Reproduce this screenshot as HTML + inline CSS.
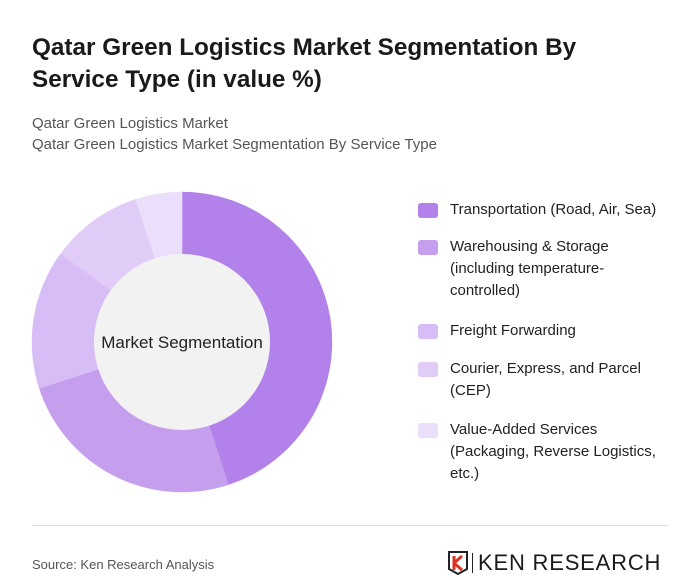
<!DOCTYPE html>
<html><head><meta charset="utf-8"><style>
body{margin:0;width:700px;height:580px;background:#fff;font-family:"Liberation Sans",sans-serif;position:relative;overflow:hidden}
.t{position:absolute;left:32px;top:32px;font-size:24.3px;font-weight:bold;color:#1a1a1a;line-height:32px;width:620px}
.s{position:absolute;left:32px;top:113px;font-size:15px;color:#555;line-height:21px}
.leg{position:absolute;left:418px;font-size:15px;color:#222;line-height:22px;width:260px}
.leg i{position:absolute;left:0;top:4px;width:20px;height:15px;border-radius:3px}
.leg span{display:block;margin-left:32px}
.hr{position:absolute;left:32px;top:525px;width:636px;height:1px;background:#ddd}
.src{position:absolute;left:32px;top:557px;font-size:13px;color:#555}
</style></head><body>
<div class="t">Qatar Green Logistics Market Segmentation By Service Type (in value %)</div>
<div class="s">Qatar Green Logistics Market<br>Qatar Green Logistics Market Segmentation By Service Type</div>
<svg id="c" width="700" height="580" style="position:absolute;left:0;top:0"></svg>
<div id="legend"></div>
<div class="hr"></div>
<div class="src">Source: Ken Research Analysis</div>
<div style="position:absolute;left:448px;top:550px;width:222px;height:26px">
<svg width="20" height="24" style="position:absolute;left:0;top:1px"><path d="M1 1H19V18L10 23L1 18Z" fill="none" stroke="#222" stroke-width="2"/><path d="M6 5V19M6 12L14 5M6 12L14 19" stroke="#d32" stroke-width="3" fill="none"/></svg>
<div style="position:absolute;left:24px;top:3px;width:1px;height:20px;background:#222"></div>
<div style="position:absolute;left:30px;top:0px;font-size:22px;letter-spacing:0.8px;color:#1a1a1a;font-family:'Liberation Sans',sans-serif;white-space:nowrap">KEN RESEARCH</div>
</div>
<script>
const categories=["Transportation (Road, Air, Sea)","Warehousing & Storage (including temperature-controlled)","Freight Forwarding","Courier, Express, and Parcel (CEP)","Value-Added Services (Packaging, Reverse Logistics, etc.)"];
const legendLines=[["Transportation (Road, Air, Sea)"],["Warehousing & Storage","(including temperature-","controlled)"],["Freight Forwarding"],["Courier, Express, and Parcel","(CEP)"],["Value-Added Services","(Packaging, Reverse Logistics,","etc.)"]];
const values=[45,25,15,10,5];
const colors=["#b381ea","#c59eee","#d6bdf5","#e0ccf7","#ebdefa"];
const svg=document.getElementById('c'),NS="http://www.w3.org/2000/svg";
const cx=182,cy=342,R=150,r=88;
const total=values.reduce((a,b)=>a+b,0);
let acc=0;
function pt(a,rad){return [cx+rad*Math.sin(a),cy-rad*Math.cos(a)];}
values.forEach((v,i)=>{
 const a0=acc/total*2*Math.PI;acc+=v;const a1=acc/total*2*Math.PI;
 const lg=(a1-a0)>Math.PI?1:0;
 const [x0,y0]=pt(a0,R),[x1,y1]=pt(a1,R),[x2,y2]=pt(a1,r),[x3,y3]=pt(a0,r);
 const p=document.createElementNS(NS,'path');
 p.setAttribute('d',`M${x0} ${y0}A${R} ${R} 0 ${lg} 1 ${x1} ${y1}L${x2} ${y2}A${r} ${r} 0 ${lg} 0 ${x3} ${y3}Z`);
 p.setAttribute('fill',colors[i]);p.setAttribute('stroke',colors[i]);p.setAttribute('stroke-width','0.5');
 
 
 svg.appendChild(p);
});
const c=document.createElementNS(NS,'circle');
c.setAttribute('cx',cx);c.setAttribute('cy',cy);c.setAttribute('r',r);c.setAttribute('fill','#f2f2f2');


svg.appendChild(c);
const t=document.createElementNS(NS,'text');
t.setAttribute('x',cx);t.setAttribute('y',cy+6);t.setAttribute('text-anchor','middle');t.setAttribute('font-size','17');t.setAttribute('fill','#222');t.setAttribute('font-family','Liberation Sans, sans-serif');
t.textContent='Market Segmentation';


svg.appendChild(t);
const leg=document.getElementById('legend');
const tops=[199,236,320,358,419];
legendLines.forEach((ls,i)=>{
 const d=document.createElement('div');d.className='leg';d.style.top=tops[i]+'px';
 
 
 d.innerHTML=`<i style="background:${colors[i]}"></i><span>${ls.join('<br>').replace(/&(?!l|g)/g,'&amp;')}</span>`;
 leg.appendChild(d);
});
</script>
</body></html>
